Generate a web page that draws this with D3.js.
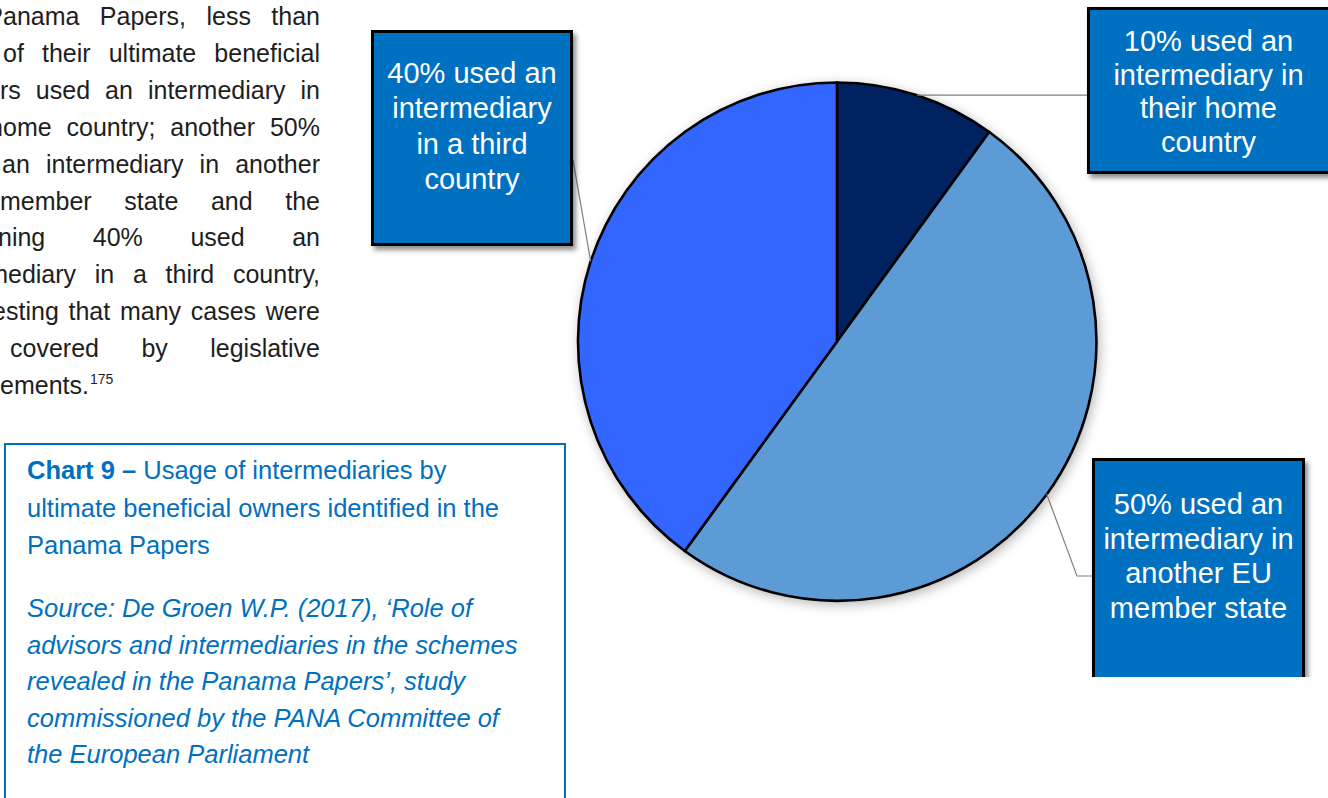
<!DOCTYPE html>
<html>
<head>
<meta charset="utf-8">
<script src="https://cdn.jsdelivr.net/npm/d3@7"></script>
<style>
  html, body { margin: 0; padding: 0; background: #fff; }
  svg { display: block; }
</style>
</head>
<body>
<svg id="chart" width="1328" height="798"></svg>
<script>
// ---- data -------------------------------------------------------------
const categories = ["home country", "another EU member state", "third country"];
const shares = [10, 50, 40];               // % of ultimate beneficial owners
const sliceColors = ["#002060", "#5B9BD5", "#3366FF"];

const labelLines = [
  ["10% used an", "intermediary in", "their home", "country"],
  ["50% used an", "intermediary in", "another EU", "member state"],
  ["40% used an", "intermediary", "in a third", "country"]
];

const captionTitleBold = "Chart 9 –";
const captionTitleLines = [
  " Usage of intermediaries by",
  "ultimate beneficial owners identified in the",
  "Panama Papers"
];
const captionSourceLines = [
  "Source: De Groen W.P. (2017), ‘Role of",
  "advisors and intermediaries in the schemes",
  "revealed in the Panama Papers’, study",
  "commissioned by the PANA Committee of",
  "the European Parliament"
];

// body paragraph lines (justified column, running off the left edge)
const bodyLines = [
  ["Panama", "Papers,", "less", "than"],
  ["of", "their", "ultimate", "beneficial"],
  ["owners", "used", "an", "intermediary", "in"],
  ["home", "country;", "another", "50%"],
  ["an", "intermediary", "in", "another"],
  ["member", "state", "and", "the"],
  ["remaining", "40%", "used", "an"],
  ["intermediary", "in", "a", "third", "country,"],
  ["suggesting", "that", "many", "cases", "were"],
  ["covered", "by", "legislative"],
  ["requirements."]
];
const footnoteRef = "175";

// ---- layout -----------------------------------------------------------
const svg = d3.select("#chart");
const defs = svg.append("defs");

const boxShadow = defs.append("filter").attr("id", "boxShadow")
  .attr("x", "-10%").attr("y", "-10%").attr("width", "130%").attr("height", "130%");
boxShadow.append("feDropShadow").attr("dx", 3).attr("dy", 4)
  .attr("stdDeviation", 2.5).attr("flood-color", "#000").attr("flood-opacity", 0.45);

const pieShadow = defs.append("filter").attr("id", "pieShadow")
  .attr("x", "-10%").attr("y", "-10%").attr("width", "125%").attr("height", "125%");
pieShadow.append("feDropShadow").attr("dx", 2).attr("dy", 3)
  .attr("stdDeviation", 6).attr("flood-color", "#000").attr("flood-opacity", 0.28);

defs.append("clipPath").attr("id", "pageClip")
  .append("rect").attr("x", 0).attr("y", 0).attr("width", 1328).attr("height", 677);

// ---- body text column -------------------------------------------------
const bodyFont = { family: "'Liberation Sans', Arial, sans-serif", size: 25 };
const bodyRight = 320, bodyTop = 25, bodyLead = 36.9;
// where the first visible glyph of each line sits: [char index, x]
const bodyStarts = [[1, 3], [0, 3], [4, 0], [1, 3], [0, 2], [0, 0],
                    [5, -2], [6, 8], [5, 6], [0, 10], [6, 0]];

const body = svg.append("g")
  .attr("font-family", bodyFont.family)
  .attr("font-size", bodyFont.size)
  .attr("fill", "#1e1e1e");

bodyLines.forEach((words, i) => {
  const y = bodyTop + i * bodyLead;
  const nodes = words.map(w => body.append("text").attr("y", y).text(w));
  const widths = nodes.map(n => n.node().getComputedTextLength());
  const [ci, cx] = bodyStarts[i];
  const lead = ci > 0 ? nodes[0].node().getSubStringLength(0, ci) : 0;
  const x0 = cx - lead;
  const isLast = i === bodyLines.length - 1;
  const total = d3.sum(widths);
  const gap = isLast || words.length < 2
    ? bodyFont.size * 0.278
    : (bodyRight - x0 - total) / (words.length - 1);
  let x = x0;
  nodes.forEach((n, k) => { n.attr("x", x); x += widths[k] + gap; });
  if (isLast) {
    body.append("text")
      .attr("x", x0 + total + 1).attr("y", y - 10)
      .attr("font-size", 14).text(footnoteRef);
  }
});

// ---- caption box ------------------------------------------------------
const capColor = "#0070C0";
svg.append("rect")
  .attr("x", 5).attr("y", 444).attr("width", 560).attr("height", 400)
  .attr("fill", "none").attr("stroke", capColor).attr("stroke-width", 2);

const cap = svg.append("g")
  .attr("font-family", "'Liberation Sans', Arial, sans-serif")
  .attr("font-size", 25.5).attr("fill", capColor);

captionTitleLines.forEach((line, i) => {
  const t = cap.append("text").attr("x", 27).attr("y", 479 + i * 37.5);
  if (i === 0) t.append("tspan").attr("font-weight", "bold").text(captionTitleBold);
  t.append("tspan").text(line);
});
captionSourceLines.forEach((line, i) => {
  cap.append("text").attr("x", 27).attr("y", 617 + i * 36.6)
    .attr("font-style", "italic").text(line);
});

// ---- pie --------------------------------------------------------------
const cx = 837, cy = 341.5, radius = 259;
const pie = d3.pie().sort(null).value(d => d);
const arcs = pie(shares);
const arc = d3.arc().innerRadius(0).outerRadius(radius);
const rim = d3.arc().innerRadius(radius).outerRadius(radius);

const pieG = svg.append("g").attr("transform", `translate(${cx},${cy})`);
pieG.append("g").attr("filter", "url(#pieShadow)")
  .selectAll("path").data(arcs).join("path")
  .attr("d", arc)
  .attr("fill", (d, i) => sliceColors[i])
  .attr("stroke", "#000").attr("stroke-width", 2.6)
  .attr("stroke-linejoin", "round");

// ---- callout boxes ----------------------------------------------------
// box geometry, text anchor, line step and the leader route (after the rim point)
const callouts = [
  { box: [1088.5, 8.5, 242, 164], textX: 1208.5, textY: 51, step: 33.7,
    route: s => [[1088, s[1]]] },
  { box: [1093.5, 459.5, 210, 260], textX: 1198.5, textY: 514, step: 34.7,
    route: () => [[1077, 576], [1093, 576]] },
  { box: [372.5, 31.5, 199, 213], textX: 472, textY: 83, step: 35.3,
    route: () => [[573, 160]] }
];

const leaders = svg.append("g").attr("fill", "none")
  .attr("stroke", "#7f7f7f").attr("stroke-width", 1.2);
arcs.forEach((d, i) => {
  const c = rim.centroid(d);
  const start = [cx + c[0], cy + c[1]];
  const pts = [start].concat(callouts[i].route(start));
  leaders.append("path").attr("d", d3.line()(pts));
});

const boxes = svg.append("g").attr("clip-path", "url(#pageClip)");
callouts.forEach((c, i) => {
  const [x, y, w, h] = c.box;
  const g = boxes.append("g");
  g.append("rect").attr("x", x).attr("y", y).attr("width", w).attr("height", h)
    .attr("fill", "#0070C0").attr("stroke", "#000").attr("stroke-width", 3)
    .attr("filter", "url(#boxShadow)");
  g.append("g")
    .attr("font-family", "'Liberation Sans', Arial, sans-serif")
    .attr("font-size", 29).attr("fill", "#fff").attr("text-anchor", "middle")
    .selectAll("text").data(labelLines[i]).join("text")
    .attr("x", c.textX).attr("y", (d, k) => c.textY + k * c.step)
    .text(d => d);
});
</script>
</body>
</html>
